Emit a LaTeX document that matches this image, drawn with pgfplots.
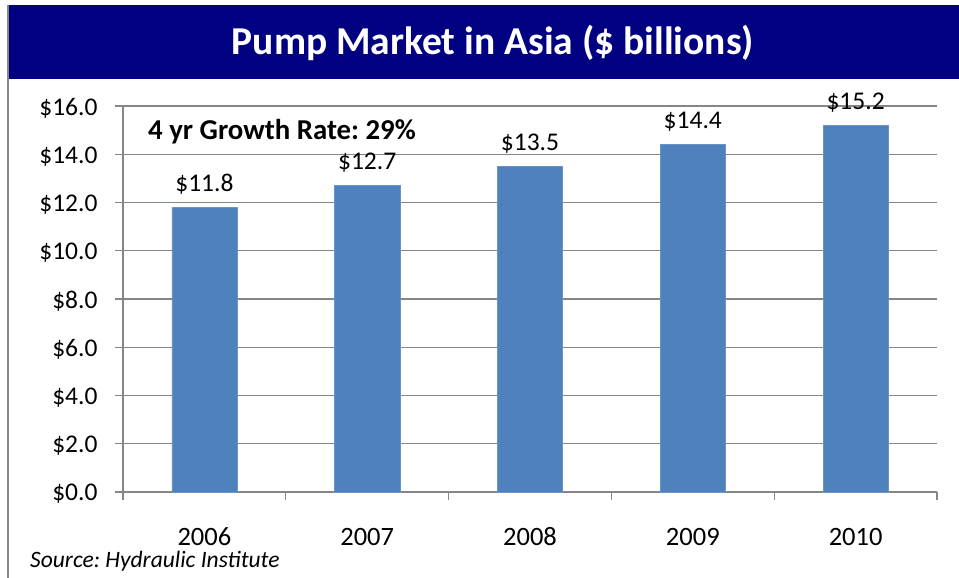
\documentclass[border=0pt]{standalone}
\usepackage{fontspec}
\setmainfont{Carlito}
\usepackage{pgfplots}
\pgfplotsset{compat=1.18}
\frenchspacing
\definecolor{navy}{HTML}{000080}
\definecolor{barblue}{HTML}{4F81BD}
\definecolor{gridgray}{HTML}{868686}
\begin{document}
\begin{tikzpicture}[x=1bp,y=1bp]
\path[use as bounding box] (0,0) rectangle (959,578);
\fill[navy] (9,499) rectangle (959,573);
\draw[gridgray,line width=2bp] (8,0) -- (8,573);
\node[anchor=base,text=white,font=\fontsize{39.5bp}{44bp}\selectfont\bfseries] at (493,523) {Pump Market in Asia (\$ billions)};
\begin{axis}[
  at={(123bp,86bp)}, anchor=south west,
  scale only axis, width=814bp, height=386bp,
  xmin=-0.5, xmax=4.5, ymin=0, ymax=16,
  axis x line=bottom, axis y line=left,
  axis line style={-, gridgray, line width=1.2bp},
  tick align=outside,
  major tick length=8bp, minor tick length=8bp,
  xtick={0,1,2,3,4},
  xticklabels={2006,2007,2008,2009,2010},
  major x tick style={draw=none},
  minor xtick={-0.5,0.5,1.5,2.5,3.5,4.5},
  minor x tick style={gridgray, line width=1.2bp},
  ytick={0,2,4,6,8,10,12,14,16},
  yticklabels={\$0.0,\$2.0,\$4.0,\$6.0,\$8.0,\$10.0,\$12.0,\$14.0,\$16.0},
  y tick style={gridgray, line width=1.2bp},
  ymajorgrids, grid style={gridgray, line width=1.2bp},
  yticklabel style={font=\fontsize{25.5bp}{30bp}\selectfont, xshift=-14bp, yshift=-2bp},
  xticklabel style={font=\fontsize{26.5bp}{30bp}\selectfont, anchor=base, yshift=-46bp},
  ybar, bar width=0.4,
  nodes near coords,
  point meta=explicit symbolic,
  every node near coord/.append style={font=\fontsize{25.5bp}{30bp}\selectfont, anchor=base, yshift=16bp},
  clip=false,
]
\addplot[fill=barblue, draw=barblue!85!white] coordinates {
  (0,11.8) [\$11.8]
  (1,12.7) [\$12.7]
  (2,13.5) [\$13.5]
  (3,14.4) [\$14.4]
  (4,15.2) [\$15.2]
};
\end{axis}
\node[anchor=base,font=\fontsize{28.8bp}{34bp}\selectfont\bfseries] at (282,438) {4 yr Growth Rate: 29\%};
\node[anchor=base west,inner sep=0pt,font=\fontsize{23.5bp}{28bp}\selectfont\itshape] at (30,10) {Source: Hydraulic Institute};
\end{tikzpicture}
\end{document}
